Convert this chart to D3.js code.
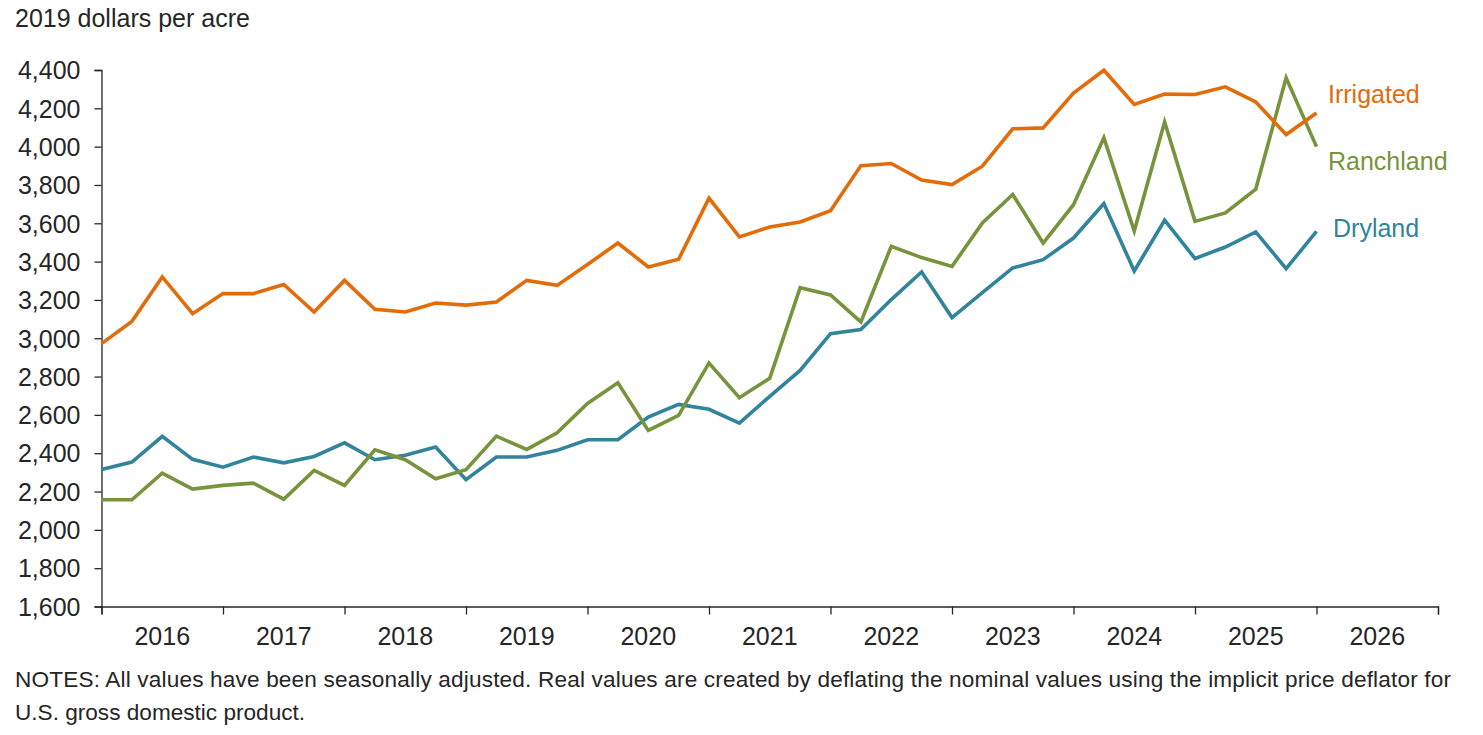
<!DOCTYPE html>
<html>
<head>
<meta charset="utf-8">
<script src="https://cdn.jsdelivr.net/npm/d3@7"></script>
<style>
  body { margin: 0; background: #fff; }
  text { font-family: "Liberation Sans", Arial, sans-serif; fill: #262626; }
</style>
</head>
<body>
<svg width="1483" height="735" viewBox="0 0 1483 735"></svg>
<script>
// quarterly values, 2016Q1 .. 2026Q1
const irrigated = [
    2972, 3088, 3320, 3128,
    3233, 3233, 3281, 3137,
    3302, 3151, 3137, 3184,
    3173, 3189, 3302, 3276,
    3385, 3497, 3372, 3412,
    3731, 3529, 3581, 3607,
    3666, 3901, 3912, 3826,
    3802, 3898, 4093, 4098,
    4279, 4399, 4220, 4274,
    4272, 4312, 4233, 4063,
    4176
];
const ranchland = [
    2157, 2157, 2296, 2213,
    2232, 2244, 2160, 2310,
    2232, 2418, 2366, 2267,
    2314, 2489, 2420, 2507,
    2660, 2768, 2519, 2597,
    2871, 2690, 2791, 3264,
    3226, 3085, 3480, 3421,
    3375, 3602, 3750, 3497,
    3697, 4047, 3560, 4129,
    3610, 3654, 3778, 4359,
    4000
];
const dryland = [
    2315, 2354, 2488, 2368,
    2327, 2380, 2350, 2383,
    2454, 2366, 2389, 2432,
    2262, 2380, 2380, 2415,
    2470, 2470, 2589, 2655,
    2629, 2557, 2697, 2832,
    3024, 3045, 3202, 3346,
    3108, 3238, 3367, 3410,
    3523, 3703, 3351, 3616,
    3416, 3476, 3555, 3363,
    3558
];
const years = [2016, 2017, 2018, 2019, 2020, 2021, 2022, 2023, 2024, 2025, 2026];
const yTicks = [1600, 1800, 2000, 2200, 2400, 2600, 2800, 3000, 3200, 3400, 3600, 3800, 4000, 4200, 4400];

const series = [
    { name: "Irrigated", values: irrigated, color: "#E36C0A", lx: 1328, ly: 103 },
    { name: "Ranchland", values: ranchland, color: "#77933C", lx: 1328, ly: 170 },
    { name: "Dryland", values: dryland, color: "#31849B", lx: 1333, ly: 237 }
];

const svg = d3.select("svg");
const plotLeft = 101.5, plotRight = 1438, plotTop = 70, plotBottom = 606.5;

const x = d3.scaleLinear().domain([2016, 2027]).range([plotLeft, plotRight]);
const y = d3.scaleLinear().domain([1600, 4400]).range([plotBottom, plotTop]);

// y axis
const yAxis = svg.append("g")
    .attr("transform", `translate(${plotLeft},0)`)
    .call(d3.axisLeft(y).tickValues(yTicks).tickSize(7).tickPadding(14).tickFormat(d3.format(",")));
yAxis.select(".domain").attr("stroke", "#262626").attr("stroke-width", 1.3);
yAxis.selectAll(".tick line").attr("stroke", "#262626").attr("stroke-width", 1.3);
yAxis.selectAll(".tick text").style("font-size", "25px").attr("dy", "0.35em").attr("fill", "#262626");

// x axis: ticks at year boundaries, labels centred in each year
const xAxis = svg.append("g")
    .attr("transform", `translate(0,${plotBottom})`)
    .call(d3.axisBottom(x).tickValues(d3.range(2016, 2028)).tickSize(8).tickFormat(""));
xAxis.select(".domain").attr("stroke", "#262626").attr("stroke-width", 1.3);
xAxis.selectAll(".tick line").attr("stroke", "#262626").attr("stroke-width", 1.3);

svg.append("g").selectAll("text")
    .data(years)
    .enter()
    .append("text")
    .attr("x", d => x(d + 0.5))
    .attr("y", plotBottom + 38)
    .attr("text-anchor", "middle")
    .style("font-size", "25px")
    .text(d => d);

// axis title
svg.append("text")
    .attr("x", 15)
    .attr("y", 27)
    .style("font-size", "25px")
    .text("2019 dollars per acre");

// lines
const line = d3.line()
    .x((d, i) => x(2016 + i / 4))
    .y(d => y(d));

svg.append("g").selectAll("path")
    .data([series[2], series[1], series[0]])
    .enter()
    .append("path")
    .attr("d", d => line(d.values))
    .attr("fill", "none")
    .attr("stroke", d => d.color)
    .attr("stroke-width", 3.6)
    .attr("stroke-linejoin", "miter");

// series labels
svg.append("g").selectAll("text")
    .data(series)
    .enter()
    .append("text")
    .attr("x", d => d.lx)
    .attr("y", d => d.ly)
    .style("font-size", "25px")
    .style("fill", d => d.color)
    .text(d => d.name);

// notes
svg.append("text")
    .attr("x", 15)
    .attr("y", 687)
    .attr("textLength", 1436)
    .attr("lengthAdjust", "spacing")
    .style("font-size", "22.6px")
    .text("NOTES: All values have been seasonally adjusted. Real values are created by deflating the nominal values using the implicit price deflator for");
svg.append("text")
    .attr("x", 15)
    .attr("y", 720)
    .style("font-size", "22.6px")
    .text("U.S. gross domestic product.");
</script>
</body>
</html>
